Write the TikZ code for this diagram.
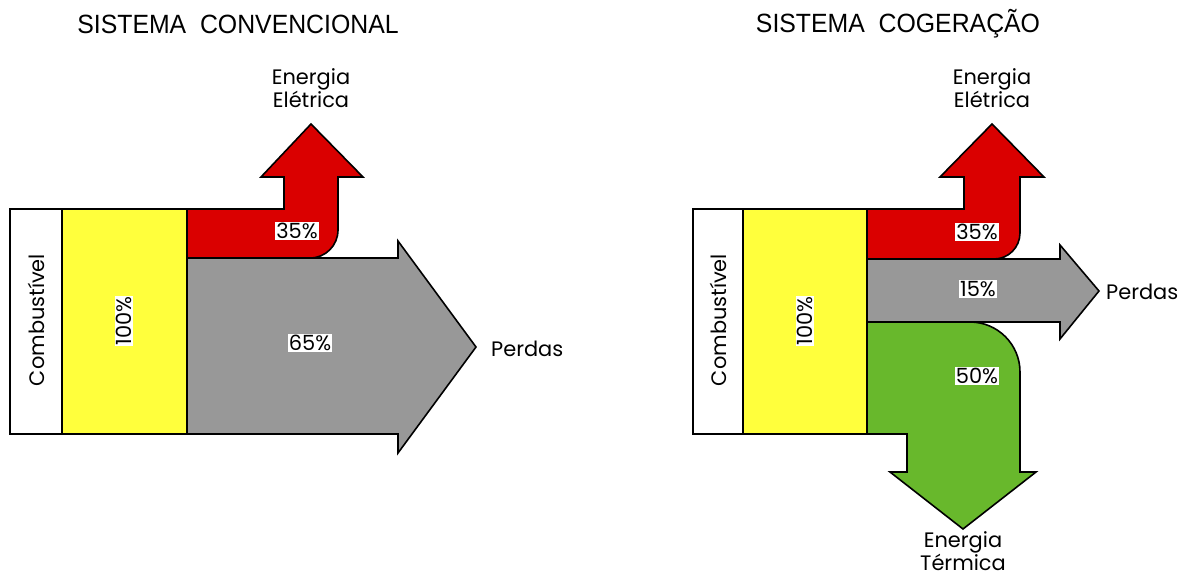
\documentclass[tikz,border=0pt]{standalone}
\usepackage{fontspec}
\setmainfont{Poppins}
\newfontfamily\titlefont{Liberation Sans}
\definecolor{cred}{RGB}{218,0,0}
\definecolor{cyel}{RGB}{255,255,60}
\definecolor{cgray}{RGB}{152,152,152}
\definecolor{cgreen}{RGB}{104,184,44}
\begin{document}
\begin{tikzpicture}[x=1bp,y=-1bp,line join=miter,
  shapeline/.style={draw=black,line width=1.6bp},
  pct/.style={fill=white,inner sep=1bp,font=\fontsize{21}{23}\selectfont},
  lbl/.style={align=center,inner sep=0pt,font=\fontsize{21}{23}\selectfont},
  ttl/.style={inner sep=0pt,xscale=0.94,font=\titlefont\fontsize{26.5}{28}\selectfont}]
\useasboundingbox (0,0) rectangle (1191,579);
% ---------- left: conventional ----------
\node[ttl] (t1) at (238,24) {SISTEMA\ \ CONVENCIONAL};
\draw[shapeline,fill=white] (10,209) rectangle (62,434);
\draw[shapeline,fill=cyel] (62,209) rectangle (187,434);
\draw[shapeline,fill=cred] (187,209) -- (284,209) -- (284,177) -- (261,177) -- (311,124) -- (363,177) -- (338,177) -- (338,230)
   .. controls (338,245.5) and (325.5,258) .. (310,258) -- (187,258) -- cycle;
\draw[shapeline,fill=cgray] (187,258) -- (398,258) -- (398,241) -- (476,347) -- (398,453) -- (398,434) -- (187,434) -- cycle;
\node[lbl,rotate=90] (c1) at (36,320) {Combustível};
\node[pct,rotate=90] (y1) at (124,321) {100\%};
\node[pct] (r1) at (297,231) {35\%};
\node[pct] (g1) at (310,343) {65\%};
\node[lbl,anchor=west] (p1) at (491,349) {Perdas};
\node[lbl] (e1) at (311,88) {Energia\\Elétrica};
% ---------- right: cogeneration ----------
\node[ttl] (t2) at (898,24) {SISTEMA\ \ COGERAÇÃO};
\draw[shapeline,fill=white] (693,209) rectangle (743,434);
\draw[shapeline,fill=cyel] (743,209) rectangle (867,434);
\draw[shapeline,fill=cred] (867,209) -- (964,209) -- (964,177) -- (940,177) -- (992,124) -- (1044,177) -- (1020,177) -- (1020,233)
   .. controls (1020,247.4) and (1008.4,259) .. (994,259) -- (867,259) -- cycle;
\draw[shapeline,fill=cgray] (867,259) -- (1060,259) -- (1060,245) -- (1099,291) -- (1060,339) -- (1060,322) -- (867,322) -- cycle;
\draw[shapeline,fill=cgreen] (867,322) -- (970,322) .. controls (997.6,322) and (1020,344.4) .. (1020,372)
   -- (1020,472) -- (1036,472) -- (963,529) -- (890,472) -- (907,472) -- (907,434) -- (867,434) -- cycle;
\node[lbl,rotate=90] (c2) at (718,320) {Combustível};
\node[pct,rotate=90] (y2) at (805,321) {100\%};
\node[pct] (r2) at (977,232) {35\%};
\node[pct] (g2) at (978,289) {15\%};
\node[pct] (v2) at (977,376) {50\%};
\node[lbl,anchor=west] (p2) at (1106,292) {Perdas};
\node[lbl] (e2) at (992,88) {Energia\\Elétrica};
\node[lbl] (h2) at (963,551) {Energia\\Térmica};
\end{tikzpicture}
\end{document}
